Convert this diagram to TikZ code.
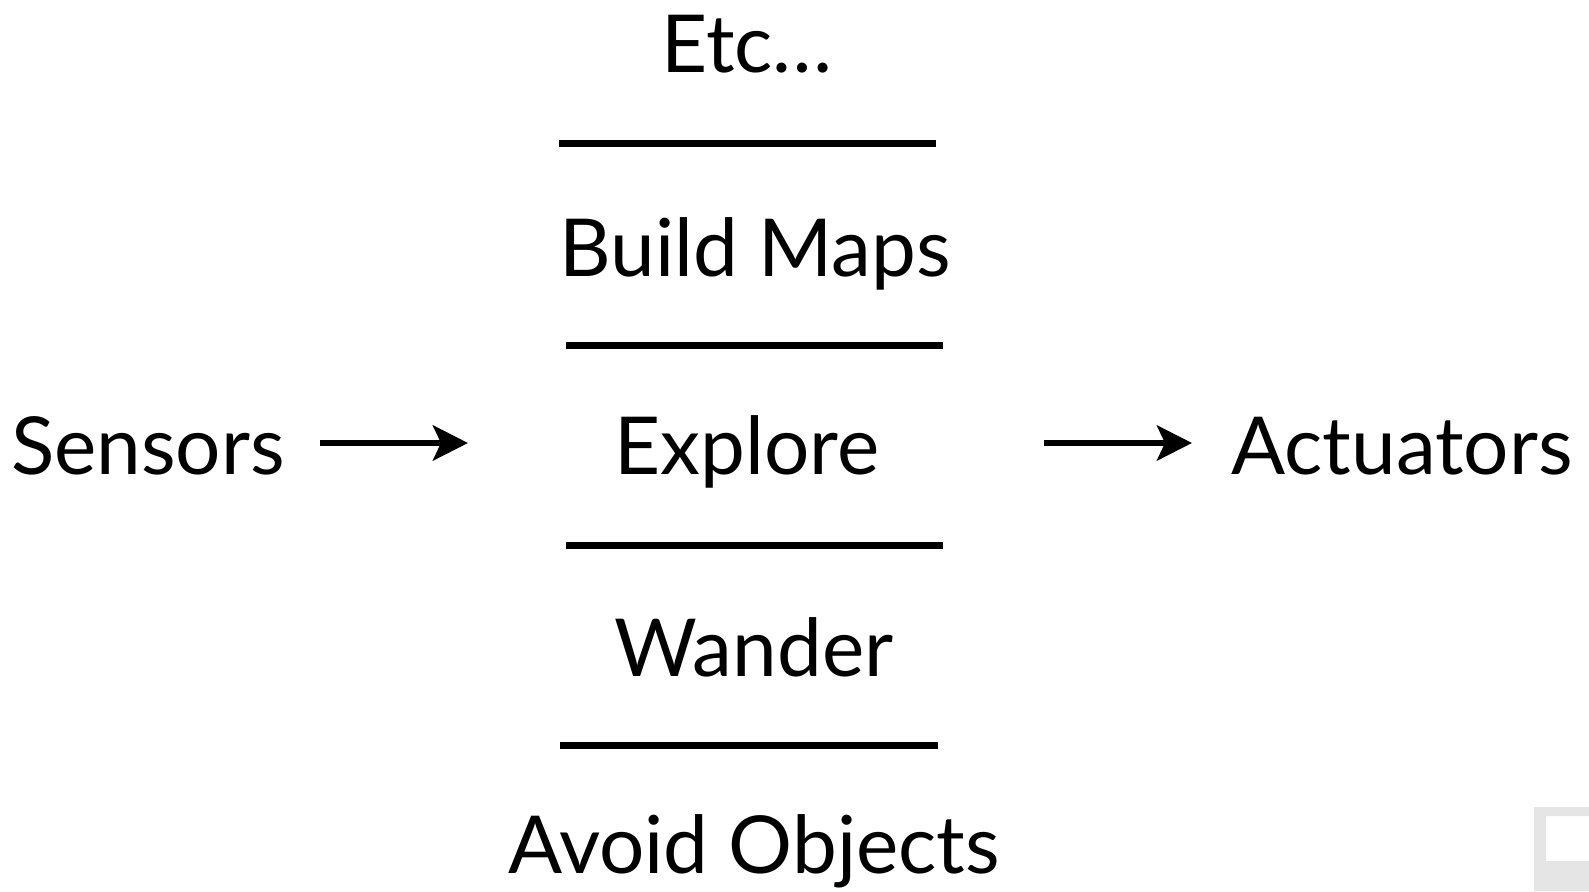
\documentclass[tikz,border=0pt]{standalone}
\usepackage{fontspec}
\setmainfont{Lato}
\usetikzlibrary{arrows.meta}
\begin{document}
\begin{tikzpicture}[x=1pt, y=-1pt, line join=round,
	>={Stealth[length=35pt,width=35pt,inset=8pt]},
	lbl/.style={anchor=base, inner sep=0pt, font=\fontsize{80}{96}\selectfont},
	bar/.style={line width=7pt},
	flow/.style={line width=6.5pt, ->}]
	\useasboundingbox (0,0) rectangle (1589,891);
	\path
	(320,443) coordinate (S1)
	(468,443) coordinate (S2)
	(1044,443) coordinate (A1)
	(1192,443) coordinate (A2);
	% layers, top to bottom, and the two ends
	\foreach \p/\x/\y/\t in
	{etc/747/73/{Etc…}, maps/755/276/{Build Maps}, explore/747/474/{Explore},
	wander/754/676/{Wander}, avoid/754/873/{Avoid Objects},
	sensors/148/474/{Sensors}, actuators/1402/474/{Actuators}}
	\node[lbl] (\p) at (\x,\y) {\t};
	% separators
	\foreach \ya/\xa/\xb in {143/559/936, 345/566/943, 545/566/943, 745/560/938}
	\draw[bar] (\xa,\ya) -- (\xb,\ya);
	\draw[flow] (S1) -- (S2);
	\draw[flow] (A1) -- (A2);
	\fill[gray!20] (1534,807) -| (1589,816) -| (1546,861) -| (1589,891)
	-- (1534,891) -- cycle;
\end{tikzpicture}
\end{document}
